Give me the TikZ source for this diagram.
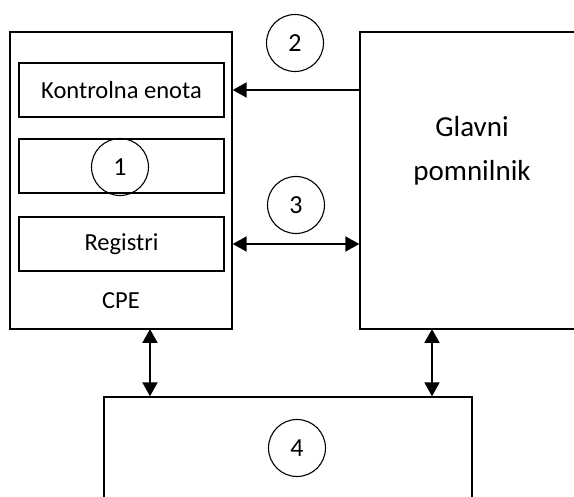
\documentclass[tikz,border=0pt]{standalone}
\usepackage{fontspec}
\setmainfont{Carlito}
\usetikzlibrary{arrows.meta}
\begin{document}
\begin{tikzpicture}[x=1pt,y=-1pt,
  box/.style={draw,line width=1.4pt,rectangle,inner sep=0pt},
  num/.style={draw,circle,line width=1.1pt,minimum size=57pt,inner sep=0pt,font=\fontsize{26}{30}\selectfont},
  lbl/.style={font=\fontsize{24.5}{29}\selectfont},
  conn/.style={line width=2pt,-{Triangle[length=14pt,width=15pt]}},
  bconn/.style={line width=2pt,{Triangle[length=14pt,width=15pt]}-{Triangle[length=14pt,width=15pt]}}]
\useasboundingbox (0,0) rectangle (574,497);
\begin{scope}
\clip (0,0) rectangle (574,497);
% CPE
\node[box,minimum width=222pt,minimum height=297pt] (cpe) at (121,180.5) {};
\node[box,minimum width=205pt,minimum height=54pt,lbl] (ke) at (121.5,90) {Kontrolna enota};
\node[box,minimum width=205pt,minimum height=54pt] (alu) at (121.5,166) {};
\node[box,minimum width=205pt,minimum height=54pt,lbl] (reg) at (121.5,244) {Registri};
\node[lbl] (cpetxt) at (121,301) {CPE};
\node[num] (n1) at (120,167) {1};
% Glavni pomnilnik
\node[box,minimum width=240pt,minimum height=297pt] (gp) at (480,180.5) {};
\node[font=\fontsize{29}{44}\selectfont,align=center] (gptxt) at (472,151) {Glavni\\pomnilnik};
% bottom
\node[box,minimum width=368pt,minimum height=140pt] (io) at (288,467) {};
\node[num] (n4) at (297,448) {4};
% circles
\node[num] (n2) at (295,43) {2};
\node[num] (n3) at (296,205) {3};
% connectors
\coordinate (a2s) at (gp.west |- ke.east);
\draw[conn] (a2s) -- (ke.east -| cpe.east);
\draw[bconn] (reg.east -| cpe.east) -- (reg.east -| gp.west);
\coordinate (c1) at (150,329);
\coordinate (c2) at (432,329);
\draw[bconn] (c1) -- (c1 |- io.north);
\draw[bconn] (c2) -- (c2 |- io.north);
\end{scope}
\end{tikzpicture}
\end{document}
